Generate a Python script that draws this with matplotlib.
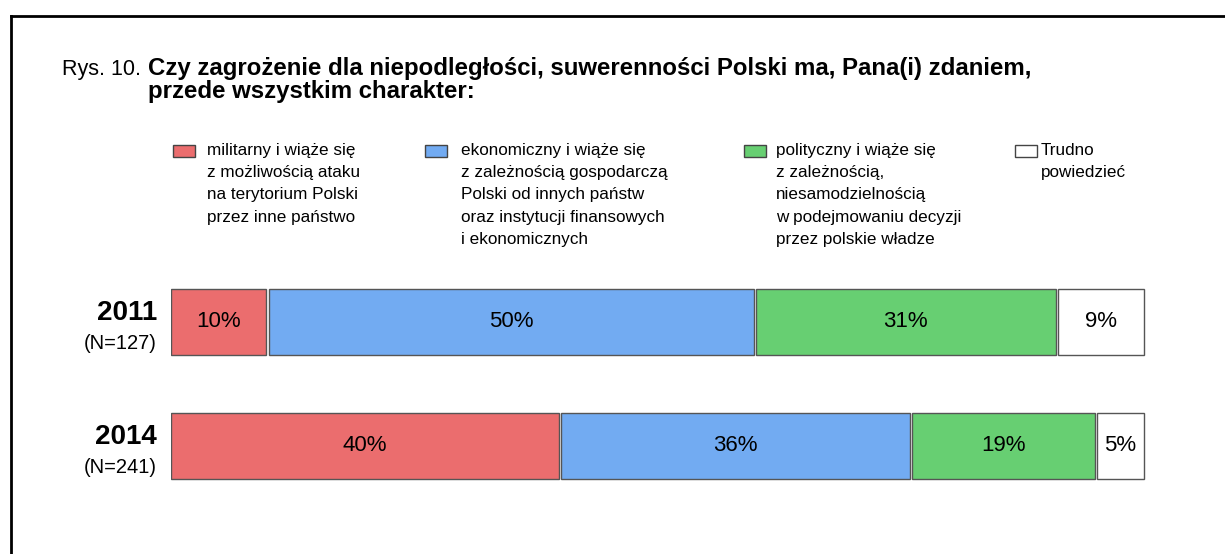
import matplotlib.pyplot as plt
import matplotlib.lines as mlines
import matplotlib.patches as mpatches

plt.rcParams['font.family'] = ['Liberation Sans', 'DejaVu Sans']

# data
years = ['2011', '2014']
sample_sizes = ['(N=127)', '(N=241)']
militarny = [10, 40]
ekonomiczny = [50, 36]
polityczny = [31, 19]
trudno = [9, 5]

categories = [
    'militarny i wiąże się\nz możliwością ataku\nna terytorium Polski\nprzez inne państwo',
    'ekonomiczny i wiąże się\nz zależnością gospodarczą\nPolski od innych państw\noraz instytucji finansowych\ni ekonomicznych',
    'polityczny i wiąże się\nz zależnością,\nniesamodzielnością\nw podejmowaniu decyzji\nprzez polskie władze',
    'Trudno\npowiedzieć',
]
colors = ['#EB6D6E', '#72ABF2', '#67CF72', '#FFFFFF']

W, H = 1225, 554
fig = plt.figure(figsize=(W / 100, H / 100), dpi=100)


def fx(px):
    return px / W


def fy(py):
    return 1 - py / H


# frame (left and top edges)
fig.add_artist(mlines.Line2D([fx(11), fx(11)], [0, fy(16)], color='black', lw=2))
fig.add_artist(mlines.Line2D([fx(11), 1], [fy(16), fy(16)], color='black', lw=2))

# title
fig.text(fx(62), fy(75), 'Rys. 10.', fontsize=15.5, va='baseline')
fig.text(fx(148), fy(75), 'Czy zagrożenie dla niepodległości, suwerenności Polski ma, Pana(i) zdaniem,',
         fontsize=17.3, fontweight='bold', va='baseline')
fig.text(fx(148), fy(98), 'przede wszystkim charakter:', fontsize=17.3, fontweight='bold', va='baseline')

# legend
leg_box_x = [173, 425, 744, 1015]
leg_text_x = [207, 461, 776, 1041]
for bx, tx, lab, col in zip(leg_box_x, leg_text_x, categories, colors):
    fig.add_artist(mpatches.Rectangle((fx(bx), fy(157)), fx(22), 12 / H, facecolor=col,
                                      edgecolor='#444444', lw=1, transform=fig.transFigure))
    fig.text(fx(tx), fy(143), lab, fontsize=12.3, va='top', ha='left', linespacing=1.6)

# bars
ax = fig.add_axes([fx(171), fy(510), fx(975), 260 / H])
ax.set_xlim(0, 100)
ax.set_ylim(1.516, -0.58)
ax.axis('off')

series = [militarny, ekonomiczny, polityczny, trudno]
gap = 0.25
for i in range(len(years)):
    left = 0
    for vals, col in zip(series, colors):
        v = vals[i]
        ax.barh(i, v - gap, left=left, height=0.532, color=col, edgecolor='#555555', lw=1)
        ax.text(left + (v - gap) / 2, i, f'{v}%', ha='center', va='center', fontsize=16)
        left += v
    ax.text(-1.45, i - 0.07, years[i], ha='right', va='center', fontsize=20, fontweight='bold')
    ax.text(-1.45, i + 0.17, sample_sizes[i], ha='right', va='center', fontsize=14.5)

fig.savefig('out.png', dpi=100)
